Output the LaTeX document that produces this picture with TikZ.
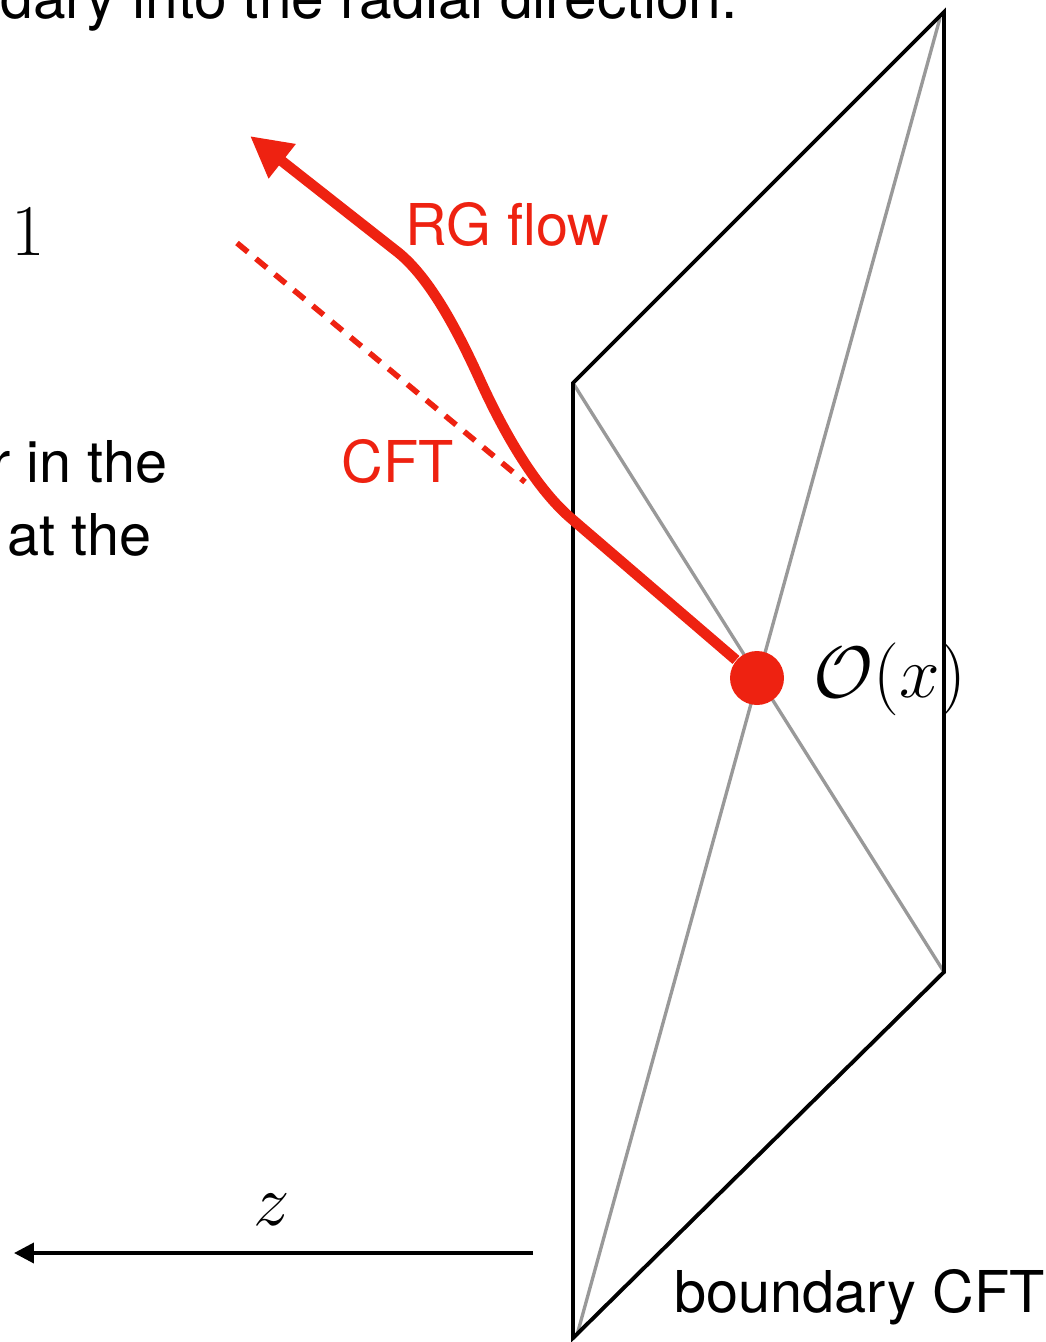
\documentclass[tikz,border=0pt]{standalone}
\usepackage{fontspec}
\setmainfont{TeX Gyre Heros}
\usetikzlibrary{arrows.meta}
\definecolor{flowred}{RGB}{238,34,17}
\begin{document}
\begin{tikzpicture}[font=\fontsize{16.4}{19}\selectfont,
  plane/.style={black,line width=1.1pt},
  diag/.style={black!40,line width=.95pt},
  flow/.style={flowred,line width=3pt,-{Triangle[length=.41cm,width=.41cm]}},
  cftline/.style={flowred,line width=1.6pt,dash pattern=on 4pt off 3pt},
  txt/.style={anchor=base west,inner sep=0},
  bigmath/.style={font=\fontsize{20.74}{25}\selectfont,inner sep=0}]
\useasboundingbox (0,0) rectangle (10.46,-13.42);
\clip (0,0) rectangle (10.46,-13.42);
% boundary plane
\draw[diag] (5.73,-3.83) -- (9.44,-9.72);
\draw[diag] (9.40,-.18) -- (5.77,-13.35);
\draw[plane] (5.73,-3.83) -- (9.44,-.12) -- (9.44,-9.72) -- (5.73,-13.38) -- cycle;
% operator and flow
\node[circle,fill=flowred,inner sep=0,minimum size=.54cm] (op) at (7.57,-6.78) {};
\coordinate (tip) at (2.50,-1.36);
\coordinate (cfta) at (2.37,-2.43);
\coordinate (cftb) at (5.25,-4.82);
\draw[cftline] (cfta) -- (cftb);
\draw[flow] (op) -- (5.73,-5.20) .. controls (5.37,-4.90) and (5.05,-4.35) .. (4.80,-3.80)
  .. controls (4.55,-3.25) and (4.27,-2.74) .. (3.95,-2.50) -- (tip);
\node[txt,flowred] (rglabel) at (4.05,-2.45) {RG flow};
\node[txt,flowred] (cftlabel) at (3.41,-4.82) {CFT};
\node[bigmath,anchor=base west] (oplabel) at (8.13,-6.97) {$\mathcal{O}(x)$};
\node[txt] (bdylabel) at (6.74,-13.12) {boundary CFT};
% z axis
\coordinate (zstart) at (5.33,-12.53);
\coordinate (zend) at (.14,-12.53);
\draw[line width=1.1pt,-{Triangle[length=.2cm,width=.2cm]}] (zstart) -- (zend);
\node[bigmath,anchor=base] (zlabel) at (2.72,-12.25) {$z$};
% cut-off text
\node[txt,font=\fontsize{16.7}{19}\selectfont] (toptext) at (0,-.18) {dary into the radial direction.};
\node[bigmath,anchor=base] (one) at (.28,-2.55) {$1$};
\node[txt,anchor=base east] (textA) at (1.68,-4.82) {r in the};
\node[txt,anchor=base east] (textB) at (1.52,-5.55) {at the};
\end{tikzpicture}
\end{document}
